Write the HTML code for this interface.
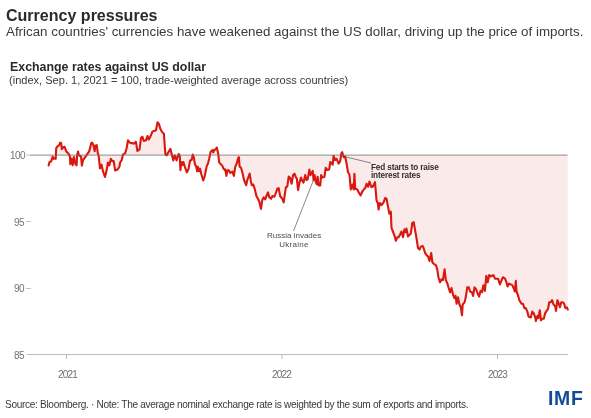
<!DOCTYPE html>
<html><head><meta charset="utf-8"><style>
html,body{margin:0;padding:0;background:#fff;}
body{width:591px;height:418px;position:relative;overflow:hidden;font-family:"Liberation Sans",sans-serif;}
.t{position:absolute;white-space:nowrap;line-height:1;will-change:transform;}
</style></head><body>
<div class="t" id="title" style="left:5.6px;top:7.4px;font-size:16.05px;font-weight:bold;color:#2b2b2b;">Currency pressures</div>
<div class="t" id="sub" style="left:6px;top:24.8px;font-size:13.35px;color:#3a3a3a;">African countries' currencies have weakened against the US dollar, driving up the price of imports.</div>
<div class="t" id="h2" style="left:9.8px;top:60.8px;font-size:12.38px;font-weight:bold;color:#2b2b2b;">Exchange rates against US dollar</div>
<div class="t" id="h3" style="left:9.3px;top:75px;font-size:11.05px;color:#3a3a3a;">(index, Sep. 1, 2021 = 100, trade-weighted average across countries)</div>
<svg width="591" height="418" style="position:absolute;left:0;top:0">
<polygon points="48.6,165.5 49.6,161.9 51.1,161.4 52.1,158.9 52.6,156.8 53.6,158.9 54.6,158.4 55.7,158.9 56.2,148.2 57.7,146.2 59.2,145.2 60.2,142.6 61.2,143.1 61.8,149.2 63.3,147.2 64.3,147.7 64.6,146.8 66.4,151.6 68.8,154.0 70.0,157.0 70.3,164.1 71.5,158.7 72.7,165.3 73.9,157.0 75.4,164.1 76.6,165.3 77.1,155.2 78.0,151.6 78.9,155.2 80.1,156.1 81.0,156.4 81.9,165.6 83.1,160.0 84.3,158.4 86.1,155.8 87.9,153.1 89.1,151.6 90.3,147.4 91.2,143.1 92.2,142.6 93.5,145.2 94.7,151.2 95.3,145.7 96.8,145.2 97.8,153.3 98.6,155.3 100.0,168.3 101.5,164.7 102.9,171.1 105.0,176.9 106.5,171.1 107.9,162.5 109.4,165.4 110.8,158.9 112.2,161.1 113.7,161.1 115.1,170.4 117.3,169.7 119.4,166.8 120.1,162.5 121.6,160.4 123.0,154.6 125.2,153.2 126.6,148.2 128.0,140.3 129.5,142.4 130.9,143.1 132.3,143.1 133.8,143.8 135.9,141.7 137.4,151.0 139.5,149.6 141.0,138.1 142.4,136.7 143.8,141.0 146.0,140.3 147.4,136.0 148.8,139.5 151.0,135.2 152.4,131.6 153.9,130.9 156.0,130.2 157.5,122.3 158.9,123.7 160.3,128.8 161.8,131.6 163.9,133.8 165.4,154.6 166.8,155.3 168.2,152.5 170.4,148.9 171.8,154.6 173.3,160.4 174.7,155.3 176.6,160.5 177.7,156.2 178.8,154.0 179.8,156.2 180.4,170.2 181.5,162.1 182.5,164.8 183.4,162.1 184.7,166.4 186.9,172.3 188.5,169.1 190.1,160.5 191.7,159.9 192.8,154.5 193.9,157.8 194.9,164.2 196.0,165.9 197.1,171.2 197.8,166.9 198.9,171.2 200.0,168.6 201.4,174.5 203.2,180.4 204.6,176.6 205.7,171.2 206.8,165.9 207.9,163.7 209.3,158.3 210.6,151.9 212.2,150.2 213.3,152.4 214.0,149.7 215.4,149.7 216.8,147.5 218.1,152.9 219.2,162.6 220.8,164.2 222.4,165.9 223.5,168.6 225.0,170.2 225.3,169.4 226.4,175.9 227.4,170.2 228.8,170.2 230.3,173.0 232.4,171.6 233.9,175.9 235.3,166.6 236.7,163.7 238.2,158.0 238.9,157.2 239.6,166.6 241.1,168.0 242.5,173.0 243.9,179.5 246.1,185.2 247.5,179.5 249.7,173.7 250.8,180.9 251.8,185.2 253.3,184.5 254.7,188.8 256.4,196.0 257.9,198.8 259.3,201.7 261.0,208.9 262.2,200.3 263.6,197.4 265.1,199.5 266.5,196.0 267.9,192.4 269.4,197.4 271.1,198.8 272.5,196.0 274.4,196.7 275.8,193.1 277.3,188.8 278.7,188.1 280.1,196.0 282.3,198.8 283.7,202.4 285.2,191.6 285.9,187.3 287.3,186.6 288.7,176.6 290.2,178.0 291.6,183.7 293.1,175.1 294.5,173.7 295.9,177.3 296.8,178.4 298.1,190.1 299.3,183.4 301.0,177.6 301.9,180.1 303.5,182.6 305.2,175.1 306.5,180.1 307.7,179.2 309.4,169.6 310.6,175.1 312.7,170.9 313.6,180.1 314.6,175.1 315.7,181.8 316.8,184.3 317.6,176.7 318.6,185.5 320.3,185.5 321.1,175.1 322.4,177.6 324.5,176.7 325.7,167.9 327.4,170.0 329.1,169.6 330.3,162.1 331.6,162.9 332.7,164.6 333.6,155.8 335.1,160.1 336.5,158.7 338.6,163.7 340.1,161.5 341.5,152.9 342.2,152.2 343.7,157.2 345.1,156.5 346.5,163.0 348.0,172.3 349.4,174.5 350.8,189.5 352.3,184.5 353.7,189.5 354.4,173.7 355.2,188.8 357.3,189.5 358.7,192.4 360.6,195.3 362.3,191.7 363.8,189.5 365.2,188.1 366.6,183.8 368.1,186.7 369.5,181.6 371.4,187.2 372.9,186.5 375.0,182.2 376.5,200.2 377.9,203.7 378.6,209.5 379.8,203.0 381.5,205.2 383.6,202.3 385.1,198.0 386.5,198.7 388.0,206.6 389.4,213.8 390.8,211.6 391.5,227.9 392.9,231.5 394.3,235.1 395.8,240.8 397.2,237.3 398.6,237.3 400.1,234.4 401.5,231.5 403.0,237.3 404.4,229.4 405.8,232.2 406.5,228.6 408.0,236.5 409.4,235.1 410.8,233.7 412.3,222.9 413.7,222.2 415.2,230.8 416.6,238.7 418.0,248.0 419.5,249.5 420.9,246.6 422.6,245.9 423.8,248.7 425.2,253.1 426.6,255.2 428.1,256.6 429.5,261.0 431.2,253.1 432.4,262.4 433.8,263.8 436.0,265.3 437.2,269.4 438.6,278.0 440.1,282.3 441.5,279.4 442.9,280.1 444.6,269.4 445.8,280.1 447.2,283.0 448.7,288.0 450.1,292.3 451.5,288.0 453.0,294.5 454.4,298.1 455.6,295.9 456.6,303.8 458.0,297.4 459.4,304.5 460.9,307.4 462.0,315.3 462.7,304.5 464.5,302.4 465.6,298.1 467.3,287.3 468.8,287.3 470.2,291.6 471.9,292.3 473.1,295.9 474.5,287.3 476.2,289.5 477.7,293.8 479.1,296.6 480.5,290.9 482.0,292.3 483.4,285.2 484.9,290.9 486.3,275.8 487.7,282.3 489.2,275.1 490.6,276.5 492.0,275.8 493.5,275.1 494.9,278.7 496.3,278.7 498.2,278.7 499.9,284.4 501.4,280.8 502.8,277.3 504.2,278.0 505.0,278.6 506.4,282.2 507.6,286.5 509.0,283.6 510.7,284.4 512.2,285.1 513.6,288.0 514.8,291.5 515.8,280.8 516.5,291.5 517.9,295.1 519.4,300.2 521.5,303.7 522.9,303.7 524.4,308.1 525.8,308.1 527.3,311.6 528.7,316.7 530.8,317.4 532.3,311.6 533.7,313.1 535.2,317.4 535.9,321.0 537.3,316.0 538.3,318.1 539.8,310.2 540.9,320.3 542.3,318.8 543.8,318.8 545.2,313.1 546.6,310.9 548.1,308.8 549.2,302.3 550.7,302.3 552.1,300.2 553.5,304.5 555.0,305.9 556.0,310.9 557.4,300.2 558.8,303.7 559.9,307.3 561.3,302.3 562.7,302.3 564.2,303.7 565.3,308.1 566.7,307.3 567.8,309.5 567.8,155.3 48.6,155.3" fill="#fbeaea" stroke="none"/>
<line x1="26" y1="155.1" x2="30" y2="155.1" stroke="#c2c2c2" stroke-width="1"/>
<line x1="26" y1="221.5" x2="31" y2="221.5" stroke="#c2c2c2" stroke-width="1"/>
<line x1="26" y1="288.5" x2="31" y2="288.5" stroke="#c2c2c2" stroke-width="1"/>
<line x1="26.5" y1="354.5" x2="568" y2="354.5" stroke="#bdbdbd" stroke-width="1"/>
<line x1="66.5" y1="354" x2="66.5" y2="359" stroke="#bdbdbd" stroke-width="1"/>
<line x1="282" y1="354" x2="282" y2="359" stroke="#bdbdbd" stroke-width="1"/>
<line x1="497.5" y1="354" x2="497.5" y2="359" stroke="#bdbdbd" stroke-width="1"/>
<line x1="344" y1="156.5" x2="371" y2="163" stroke="#555" stroke-width="0.7"/>
<line x1="313.5" y1="180" x2="293.5" y2="231" stroke="#555" stroke-width="0.7"/>
<polyline points="48.6,165.5 49.6,161.9 51.1,161.4 52.1,158.9 52.6,156.8 53.6,158.9 54.6,158.4 55.7,158.9 56.2,148.2 57.7,146.2 59.2,145.2 60.2,142.6 61.2,143.1 61.8,149.2 63.3,147.2 64.3,147.7 64.6,146.8 66.4,151.6 68.8,154.0 70.0,157.0 70.3,164.1 71.5,158.7 72.7,165.3 73.9,157.0 75.4,164.1 76.6,165.3 77.1,155.2 78.0,151.6 78.9,155.2 80.1,156.1 81.0,156.4 81.9,165.6 83.1,160.0 84.3,158.4 86.1,155.8 87.9,153.1 89.1,151.6 90.3,147.4 91.2,143.1 92.2,142.6 93.5,145.2 94.7,151.2 95.3,145.7 96.8,145.2 97.8,153.3 98.6,155.3 100.0,168.3 101.5,164.7 102.9,171.1 105.0,176.9 106.5,171.1 107.9,162.5 109.4,165.4 110.8,158.9 112.2,161.1 113.7,161.1 115.1,170.4 117.3,169.7 119.4,166.8 120.1,162.5 121.6,160.4 123.0,154.6 125.2,153.2 126.6,148.2 128.0,140.3 129.5,142.4 130.9,143.1 132.3,143.1 133.8,143.8 135.9,141.7 137.4,151.0 139.5,149.6 141.0,138.1 142.4,136.7 143.8,141.0 146.0,140.3 147.4,136.0 148.8,139.5 151.0,135.2 152.4,131.6 153.9,130.9 156.0,130.2 157.5,122.3 158.9,123.7 160.3,128.8 161.8,131.6 163.9,133.8 165.4,154.6 166.8,155.3 168.2,152.5 170.4,148.9 171.8,154.6 173.3,160.4 174.7,155.3 176.6,160.5 177.7,156.2 178.8,154.0 179.8,156.2 180.4,170.2 181.5,162.1 182.5,164.8 183.4,162.1 184.7,166.4 186.9,172.3 188.5,169.1 190.1,160.5 191.7,159.9 192.8,154.5 193.9,157.8 194.9,164.2 196.0,165.9 197.1,171.2 197.8,166.9 198.9,171.2 200.0,168.6 201.4,174.5 203.2,180.4 204.6,176.6 205.7,171.2 206.8,165.9 207.9,163.7 209.3,158.3 210.6,151.9 212.2,150.2 213.3,152.4 214.0,149.7 215.4,149.7 216.8,147.5 218.1,152.9 219.2,162.6 220.8,164.2 222.4,165.9 223.5,168.6 225.0,170.2 225.3,169.4 226.4,175.9 227.4,170.2 228.8,170.2 230.3,173.0 232.4,171.6 233.9,175.9 235.3,166.6 236.7,163.7 238.2,158.0 238.9,157.2 239.6,166.6 241.1,168.0 242.5,173.0 243.9,179.5 246.1,185.2 247.5,179.5 249.7,173.7 250.8,180.9 251.8,185.2 253.3,184.5 254.7,188.8 256.4,196.0 257.9,198.8 259.3,201.7 261.0,208.9 262.2,200.3 263.6,197.4 265.1,199.5 266.5,196.0 267.9,192.4 269.4,197.4 271.1,198.8 272.5,196.0 274.4,196.7 275.8,193.1 277.3,188.8 278.7,188.1 280.1,196.0 282.3,198.8 283.7,202.4 285.2,191.6 285.9,187.3 287.3,186.6 288.7,176.6 290.2,178.0 291.6,183.7 293.1,175.1 294.5,173.7 295.9,177.3 296.8,178.4 298.1,190.1 299.3,183.4 301.0,177.6 301.9,180.1 303.5,182.6 305.2,175.1 306.5,180.1 307.7,179.2 309.4,169.6 310.6,175.1 312.7,170.9 313.6,180.1 314.6,175.1 315.7,181.8 316.8,184.3 317.6,176.7 318.6,185.5 320.3,185.5 321.1,175.1 322.4,177.6 324.5,176.7 325.7,167.9 327.4,170.0 329.1,169.6 330.3,162.1 331.6,162.9 332.7,164.6 333.6,155.8 335.1,160.1 336.5,158.7 338.6,163.7 340.1,161.5 341.5,152.9 342.2,152.2 343.7,157.2 345.1,156.5 346.5,163.0 348.0,172.3 349.4,174.5 350.8,189.5 352.3,184.5 353.7,189.5 354.4,173.7 355.2,188.8 357.3,189.5 358.7,192.4 360.6,195.3 362.3,191.7 363.8,189.5 365.2,188.1 366.6,183.8 368.1,186.7 369.5,181.6 371.4,187.2 372.9,186.5 375.0,182.2 376.5,200.2 377.9,203.7 378.6,209.5 379.8,203.0 381.5,205.2 383.6,202.3 385.1,198.0 386.5,198.7 388.0,206.6 389.4,213.8 390.8,211.6 391.5,227.9 392.9,231.5 394.3,235.1 395.8,240.8 397.2,237.3 398.6,237.3 400.1,234.4 401.5,231.5 403.0,237.3 404.4,229.4 405.8,232.2 406.5,228.6 408.0,236.5 409.4,235.1 410.8,233.7 412.3,222.9 413.7,222.2 415.2,230.8 416.6,238.7 418.0,248.0 419.5,249.5 420.9,246.6 422.6,245.9 423.8,248.7 425.2,253.1 426.6,255.2 428.1,256.6 429.5,261.0 431.2,253.1 432.4,262.4 433.8,263.8 436.0,265.3 437.2,269.4 438.6,278.0 440.1,282.3 441.5,279.4 442.9,280.1 444.6,269.4 445.8,280.1 447.2,283.0 448.7,288.0 450.1,292.3 451.5,288.0 453.0,294.5 454.4,298.1 455.6,295.9 456.6,303.8 458.0,297.4 459.4,304.5 460.9,307.4 462.0,315.3 462.7,304.5 464.5,302.4 465.6,298.1 467.3,287.3 468.8,287.3 470.2,291.6 471.9,292.3 473.1,295.9 474.5,287.3 476.2,289.5 477.7,293.8 479.1,296.6 480.5,290.9 482.0,292.3 483.4,285.2 484.9,290.9 486.3,275.8 487.7,282.3 489.2,275.1 490.6,276.5 492.0,275.8 493.5,275.1 494.9,278.7 496.3,278.7 498.2,278.7 499.9,284.4 501.4,280.8 502.8,277.3 504.2,278.0 505.0,278.6 506.4,282.2 507.6,286.5 509.0,283.6 510.7,284.4 512.2,285.1 513.6,288.0 514.8,291.5 515.8,280.8 516.5,291.5 517.9,295.1 519.4,300.2 521.5,303.7 522.9,303.7 524.4,308.1 525.8,308.1 527.3,311.6 528.7,316.7 530.8,317.4 532.3,311.6 533.7,313.1 535.2,317.4 535.9,321.0 537.3,316.0 538.3,318.1 539.8,310.2 540.9,320.3 542.3,318.8 543.8,318.8 545.2,313.1 546.6,310.9 548.1,308.8 549.2,302.3 550.7,302.3 552.1,300.2 553.5,304.5 555.0,305.9 556.0,310.9 557.4,300.2 558.8,303.7 559.9,307.3 561.3,302.3 562.7,302.3 564.2,303.7 565.3,308.1 566.7,307.3 567.8,309.5" fill="none" stroke="#d9180f" stroke-width="2.1" stroke-linejoin="round" stroke-linecap="round"/>
<line x1="30" y1="155.1" x2="567.5" y2="155.1" stroke="#6e6e6e" stroke-opacity="0.8" stroke-width="1"/>
</svg>
<div class="t" style="left:9.6px;top:151px;font-size:10px;letter-spacing:-0.55px;color:#737373;">100</div>
<div class="t" style="left:14px;top:218px;font-size:10px;letter-spacing:-0.55px;color:#737373;">95</div>
<div class="t" style="left:14px;top:284.4px;font-size:10px;letter-spacing:-0.55px;color:#737373;">90</div>
<div class="t" style="left:14px;top:351px;font-size:10px;letter-spacing:-0.55px;color:#737373;">85</div>
<div class="t" style="left:57.6px;top:369.8px;font-size:10px;letter-spacing:-0.85px;color:#6e6e6e;">2021</div>
<div class="t" style="left:272px;top:369.8px;font-size:10px;letter-spacing:-0.85px;color:#6e6e6e;">2022</div>
<div class="t" style="left:487.8px;top:369.8px;font-size:10px;letter-spacing:-0.85px;color:#6e6e6e;">2023</div>
<div class="t" style="left:371px;top:163.7px;font-size:8.2px;letter-spacing:-0.15px;font-weight:bold;color:#2e2e2e;line-height:7.7px;">Fed starts to raise<br>interest rates</div>
<div class="t" style="left:267px;top:230.8px;font-size:8px;color:#4d4d4d;line-height:9px;text-align:center;width:54px;">Russia invades<br><span style="letter-spacing:0.3px;">Ukraine</span></div>
<div class="t" id="src" style="left:5.4px;top:400px;font-size:10.1px;letter-spacing:-0.32px;color:#3a3a3a;">Source: Bloomberg. · Note: The average nominal exchange rate is weighted by the sum of exports and imports.</div>
<div class="t" id="imf" style="left:548.4px;top:388.6px;font-size:19.4px;letter-spacing:0.7px;font-weight:bold;color:#124b96;">IMF</div>
</body></html>
